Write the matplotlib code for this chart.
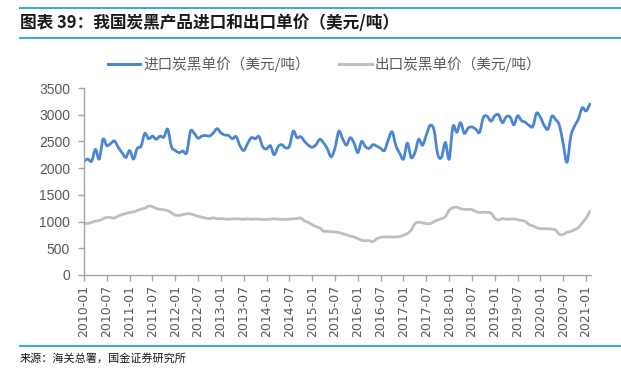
import matplotlib
matplotlib.use("Agg")
import matplotlib.pyplot as plt
from matplotlib.lines import Line2D
from matplotlib.path import Path
from matplotlib.patches import PathPatch
import numpy as np
import pandas as pd

# ---- data ----
start_month = "2010-01"
import_price = [
    2130, 2170, 2130, 2350, 2170, 2540, 2420, 2460, 2510, 2390,
    2290, 2200, 2330, 2170, 2370, 2410, 2650, 2550, 2600, 2540,
    2600, 2580, 2730, 2400, 2330, 2290, 2320, 2290, 2690, 2650,
    2560, 2600, 2610, 2600, 2660, 2740, 2660, 2620, 2610, 2550,
    2590, 2420, 2330, 2460, 2570, 2550, 2590, 2400, 2360, 2420,
    2250, 2400, 2440, 2380, 2410, 2690, 2570, 2590, 2500, 2430,
    2390, 2440, 2540, 2470, 2360, 2210, 2380, 2690, 2550, 2430,
    2570, 2470, 2290, 2500, 2400, 2370, 2440, 2410, 2370, 2330,
    2530, 2680, 2420, 2280, 2170, 2470, 2200, 2290, 2540, 2430,
    2620, 2800, 2720, 2260, 2200, 2480, 2170, 2780, 2670, 2850,
    2650, 2750, 2770, 2730, 2670, 2950, 2970, 2880, 2980, 3000,
    2850, 2960, 2960, 2810, 2980, 2890, 2860, 2800, 2780, 3030,
    2950, 2800, 2730, 2970, 2910, 2800, 2450, 2110, 2600, 2790,
    2920, 3130, 3070, 3200,
]
export_price = [
    970, 965, 985, 1010, 1020, 1050, 1080, 1075, 1065, 1105,
    1130, 1150, 1170, 1180, 1205, 1235, 1250, 1290, 1280, 1245,
    1230, 1220, 1205, 1165, 1120, 1115, 1130, 1145, 1145, 1120,
    1100, 1080, 1065, 1055, 1070, 1055, 1055, 1050, 1042, 1050,
    1053, 1048, 1042, 1050, 1042, 1050, 1045, 1040, 1042, 1045,
    1052, 1045, 1042, 1040, 1045, 1052, 1058, 1066, 1010, 985,
    940, 905, 880, 820, 818, 810, 805, 795, 775, 750,
    730, 712, 680, 650, 640, 644, 625, 680, 705, 712,
    712, 712, 712, 720, 745, 775, 840, 960, 990, 975,
    965, 960, 1000, 1030, 1055, 1090, 1210, 1260, 1270, 1240,
    1230, 1228, 1225, 1190, 1170, 1175, 1172, 1160, 1066, 1030,
    1055, 1045, 1045, 1050, 1035, 1020, 1005, 945, 920, 885,
    870, 867, 865, 858, 840, 760, 760, 800, 815, 850,
    890, 975, 1065, 1190,
]
import_label = "进口炭黑单价（美元/吨）"
export_label = "出口炭黑单价（美元/吨）"
title_text = "图表 39：我国炭黑产品进口和出口单价（美元/吨）"
source_text = "来源：海关总署，国金证券研究所"
y_ticks = [0, 500, 1000, 1500, 2000, 2500, 3000, 3500]

months = pd.period_range(start_month, periods=len(import_price), freq="M")
month_labels = [m.strftime("%Y-%m") for m in months]
x = np.arange(len(months))

cjk = ["Noto Sans CJK SC", "DejaVu Sans"]
blue = "#4A86D4"
grey = "#BFBFBF"
txt = "#595959"
rule = "#3FA9DF"

fig = plt.figure(figsize=(6.21, 3.70), dpi=100)
W, H = 621, 370

def fx(px):
    return px / W

def fy(py):
    return 1 - py / H

ax = fig.add_axes([fx(84), fy(275), fx(591) - fx(84), fy(88) - fy(275)])


def smooth_line(ax, xs, ys, color, lw):
    """Draw a smoothed (Catmull-Rom style Bezier) line through the data points."""
    xs = np.asarray(xs, float)
    ys = np.asarray(ys, float)
    n = len(xs)
    verts = [(xs[0], ys[0])]
    codes = [Path.MOVETO]
    t = 1.0 / 6.0
    for i in range(n - 1):
        p0 = (xs[i - 1], ys[i - 1]) if i > 0 else (xs[i], ys[i])
        p1 = (xs[i], ys[i])
        p2 = (xs[i + 1], ys[i + 1])
        p3 = (xs[i + 2], ys[i + 2]) if i + 2 < n else p2
        c1 = (p1[0] + (p2[0] - p0[0]) * t, p1[1] + (p2[1] - p0[1]) * t)
        c2 = (p2[0] - (p3[0] - p1[0]) * t, p2[1] - (p3[1] - p1[1]) * t)
        verts += [c1, c2, p2]
        codes += [Path.CURVE4] * 3
    patch = PathPatch(Path(verts, codes), facecolor="none", edgecolor=color,
                      lw=lw, capstyle="round", joinstyle="round")
    ax.add_patch(patch)


smooth_line(ax, x, import_price, blue, 2.0)
smooth_line(ax, x, export_price, grey, 2.0)
ax.set_xlim(0, len(x) - 1 + 0.3)
ax.set_ylim(0, 3500)
ax.set_yticks(y_ticks)
ax.set_yticklabels([str(v) for v in y_ticks], family="Liberation Sans", fontsize=10, color=txt)
tick_idx = x[::6]
ax.set_xticks(tick_idx)
ax.set_xticklabels([month_labels[i] for i in tick_idx], rotation=90,
                   family="DejaVu Sans", fontsize=9, color=txt)
for s in ["top", "right"]:
    ax.spines[s].set_visible(False)
for s in ["left", "bottom"]:
    ax.spines[s].set_color("#A6A6A6")
    ax.spines[s].set_linewidth(1.0)
ax.tick_params(axis="both", direction="out", color="#A6A6A6", length=4, width=1.0, pad=3)
ax.tick_params(axis="y", pad=6)

# header and footer
fig.add_artist(Line2D([fx(20), 1.0], [fy(8), fy(8)], color=rule, lw=1.5))
fig.add_artist(Line2D([fx(20), 1.0], [fy(38), fy(38)], color=rule, lw=1.5))
fig.text(fx(20), fy(23), title_text, family=cjk, fontsize=12, fontweight="bold",
         color="#1A1A1A", va="center", ha="left")
fig.add_artist(Line2D([fx(20), 1.0], [fy(346), fy(346)], color=rule, lw=1.5))
fig.text(fx(20), fy(358), source_text, family=cjk, fontsize=8, color="#1A1A1A",
         va="center", ha="left")

# legend
ly = fy(64)
fig.add_artist(Line2D([fx(108), fx(140)], [ly, ly], color=blue, lw=2.2))
fig.text(fx(143), ly, import_label, family=cjk, fontsize=10.5, color=txt, va="center", ha="left")
fig.add_artist(Line2D([fx(339), fx(372)], [ly, ly], color=grey, lw=2.2))
fig.text(fx(375), ly, export_label, family=cjk, fontsize=10.5, color=txt, va="center", ha="left")

fig.savefig("out.png", dpi=100)
